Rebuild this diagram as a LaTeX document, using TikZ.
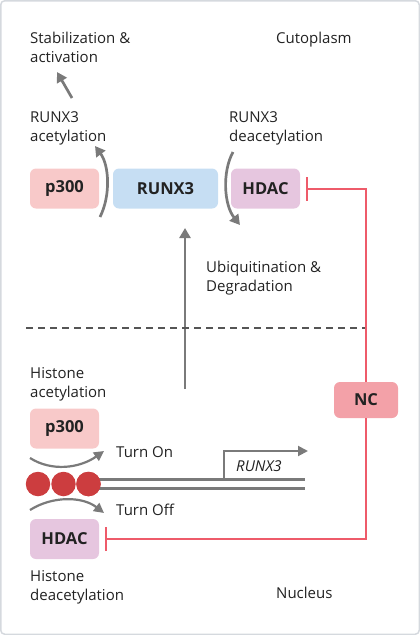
\documentclass[tikz,border=0pt]{standalone}
\usepackage{fontspec}
\setmainfont{Open Sans}
\usetikzlibrary{arrows.meta}
\definecolor{arrgray}{HTML}{7A7A7A}
\definecolor{inhred}{HTML}{EE5B6A}
\definecolor{pink}{HTML}{F8C9C9}
\definecolor{lblue}{HTML}{C6DEF3}
\definecolor{lpurple}{HTML}{E6C6DF}
\definecolor{ncpink}{HTML}{F3A1A8}
\definecolor{nucred}{HTML}{CC3D3F}
\definecolor{frame}{HTML}{D5D9DE}
\definecolor{txt}{HTML}{222222}
\tikzset{
  lbl/.style={anchor=base west, inner sep=0pt, align=left, text=txt,
    font=\fontsize{15}{18.5}\selectfont},
  box/.style={rounded corners=6pt, minimum width=69pt, minimum height=40pt,
    inner sep=0pt, text=txt, font=\fontsize{16.5}{18}\selectfont\bfseries},
  garr/.style={draw=arrgray, line width=2.7pt, -{Triangle[length=10pt,width=11pt]}},
  thin garr/.style={draw=arrgray, line width=2.2pt, -{Triangle[length=10pt,width=10pt]}},
  inh/.style={draw=inhred, line width=2pt, -{Bar[width=24pt,line width=2pt]}},
  nucl/.style={circle, fill=nucred, minimum size=24.5pt, inner sep=0pt},
}
\begin{document}
\begin{tikzpicture}[x=1pt,y=-1pt]
\useasboundingbox (0,0) rectangle (420,635);
\draw[frame, line width=1.5pt, rounded corners=4pt] (0.75,0.75) rectangle (419.25,634.25);

% texts (multi-line nodes anchored at last baseline)
\node[lbl] (stab) at (30,62) {Stabilization \&\\activation};
\node[lbl] (cyto) at (276,43.5) {Cutoplasm};
\node[lbl] (racet) at (30,141) {RUNX3\\acetylation};
\node[lbl] (rdeac) at (229,141) {RUNX3\\deacetylation};
\node[lbl] (ubi) at (206,291) {Ubiquitination \&\\Degradation};
\node[lbl] (hacet) at (30,397) {Histone\\acetylation};
\node[lbl] (ton) at (116,457) {Turn On};
\node[lbl] (toff) at (116,515) {Turn Off};
\node[lbl, font=\fontsize{15}{18.5}\selectfont\itshape] (rgene) at (236,471) {RUNX3};
\node[lbl] (hdeac) at (30,600) {Histone\\deacetylation};
\node[lbl] (nucleus) at (276,598) {Nucleus};

% boxes
\node[box, fill=pink] (p300a) at (64.5,188.5) {p300};
\node[box, fill=lblue, minimum width=105pt] (runx) at (165.5,188.5) {RUNX3};
\node[box, fill=lpurple] (hdaca) at (265.5,188.5) {HDAC};
\node[box, fill=pink] (p300b) at (64.5,428.5) {p300};
\node[box, fill=lpurple] (hdacb) at (64.5,539) {HDAC};
\node[box, fill=ncpink, minimum width=64pt, minimum height=36pt] (nc) at (366,400) {NC};

% nucleosomes
\node[nucl] (n1) at (38,484) {};
\node[nucl] (n2) at (63.5,484) {};
\node[nucl] (n3) at (88.5,484) {};

% coordinates
\coordinate (stabS) at (72,98);
\coordinate (stabE) at (57,72);
\coordinate (acS) at (100,217);
\coordinate (acE) at (95,146);
\coordinate (deS) at (233,152);
\coordinate (deE) at (240,225);
\coordinate (upS) at (185,389);
\coordinate (upE) at (185,228);
\coordinate (dL) at (26,328);
\coordinate (dR) at (365,328);
\coordinate (onS) at (30,458);
\coordinate (onE) at (104,451);
\coordinate (offS) at (30,510);
\coordinate (offE) at (104,513);
\coordinate (dnaE1) at (305,479.5);
\coordinate (dnaE2) at (305,488.5);
\coordinate (tss) at (224,479.5);
\coordinate (tssE) at (308,451);

% arrows
\draw[garr] (stabS) -- (stabE);
\draw[garr] (acS) .. controls (111,195) and (109,165) .. (acE);
\draw[garr] (deS) .. controls (222,172) and (224,205) .. (deE);
\draw[garr] (upS) -- (upE);
\draw[arrgray!70!black, line width=1.3pt, dash pattern=on 7pt off 5pt] (dL) -- (dR);
\draw[thin garr] (onS) .. controls (52,472) and (80,468) .. (onE);
\draw[thin garr] (offS) .. controls (52,496) and (82,496) .. (offE);

% DNA
\draw[arrgray, line width=2.5pt] (n3.center) ++(0,-4.5) -- (dnaE1);
\draw[arrgray, line width=2.5pt] (n3.center) ++(0,4.5) -- (dnaE2);
\fill[nucred] (n3) circle (12.25pt);
\draw[arrgray, line width=2pt, -{Triangle[length=10pt,width=10pt]}] (tss) |- (tssE);

% inhibition
\draw[inh] (nc.north) |- ([xshift=6pt]hdaca.east);
\draw[inh] (nc.south) |- ([xshift=6pt]hdacb.east);
\end{tikzpicture}
\end{document}
